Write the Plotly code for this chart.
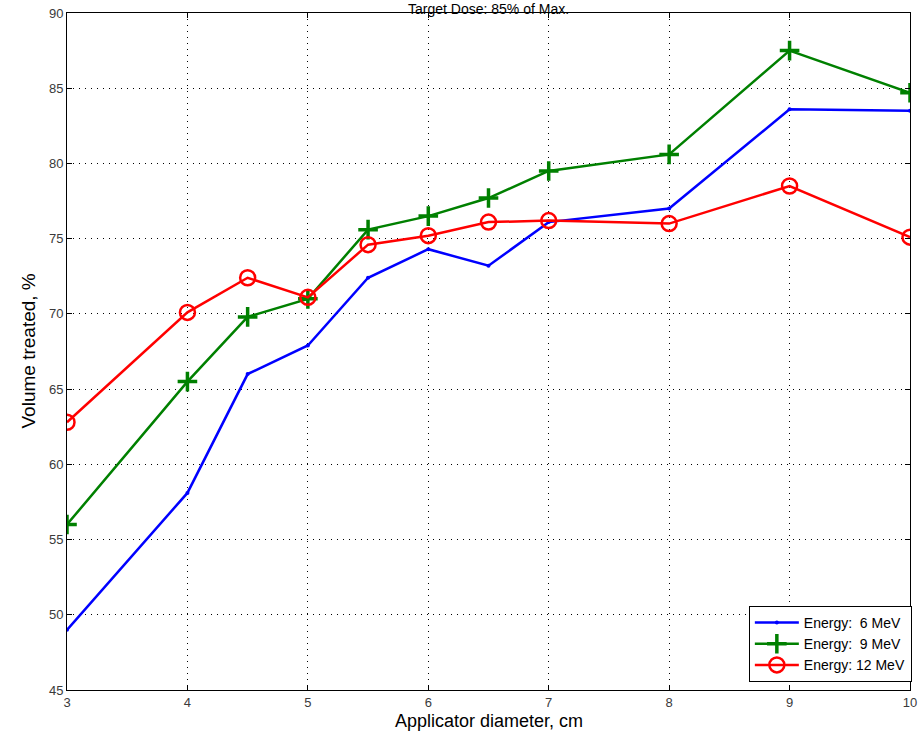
import plotly.graph_objects as go

diam = [3, 4, 4.5, 5, 5.5, 6, 6.5, 7, 8, 9, 10]
vol_6mev = [49.0, 58.1, 66.0, 67.9, 72.4, 74.3, 73.2, 76.1, 77.0, 83.6, 83.5]
vol_9mev = [56.0, 65.5, 69.8, 71.0, 75.6, 76.5, 77.7, 79.5, 80.6, 87.5, 84.7]
vol_12mev = [62.8, 70.1, 72.4, 71.1, 74.6, 75.2, 76.1, 76.2, 76.0, 78.5, 75.1]
x_ticks = [3, 4, 5, 6, 7, 8, 9, 10]
y_ticks = [45, 50, 55, 60, 65, 70, 75, 80, 85, 90]

FONT = "Liberation Sans, Arial, sans-serif"

fig = go.Figure()
fig.add_trace(go.Scatter(
    x=diam, y=vol_6mev, mode="lines+markers",
    name="Energy:\u00a0 6 MeV",
    line=dict(color="#0000FF", width=2.5),
    marker=dict(symbol="circle", size=4, color="#0000FF"),
))
fig.add_trace(go.Scatter(
    x=diam, y=vol_9mev, mode="lines+markers",
    name="Energy:\u00a0 9 MeV",
    line=dict(color="#008000", width=2.5),
    marker=dict(symbol="cross-thin-open", size=14, color="#008000",
                line=dict(color="#008000", width=3.5)),
))
fig.add_trace(go.Scatter(
    x=diam, y=vol_12mev, mode="lines+markers",
    name="Energy: 12 MeV",
    line=dict(color="#FF0000", width=2.5),
    marker=dict(symbol="circle-open", size=15, color="#FF0000",
                line=dict(color="#FF0000", width=2.5)),
))

axis_common = dict(
    showline=True, linecolor="black", linewidth=1, mirror="allticks",
    ticks="inside", ticklen=5, tickcolor="black",
    showgrid=True, gridcolor="black", gridwidth=1, griddash="1px,5px",
    zeroline=False, automargin=False,
    tickfont=dict(family=FONT, size=13, color="#3a3a3a"),
)

fig.update_xaxes(range=[3, 10], tickvals=x_ticks, ticktext=[str(v) for v in x_ticks],
                 ticklabelstandoff=0, **axis_common)
fig.update_yaxes(range=[45, 90], tickvals=y_ticks, ticktext=[str(v) for v in y_ticks],
                 **axis_common)

# axis titles and chart title
fig.add_annotation(text="Applicator diameter, cm", xref="paper", yref="paper",
                   x=0.5, y=0, xanchor="center", yanchor="top", yshift=-19,
                   showarrow=False, font=dict(family=FONT, size=18, color="black"))
fig.add_annotation(text="Volume treated, %", xref="paper", yref="paper",
                   x=0, y=0.5, xanchor="center", yanchor="middle", xshift=-39,
                   textangle=-90, showarrow=False,
                   font=dict(family=FONT, size=19, color="black"))
fig.add_annotation(text="Target Dose: 85% of Max.", xref="paper", yref="paper",
                   x=0.5, y=1, xanchor="center", yanchor="top", yshift=14,
                   showarrow=False, font=dict(family=FONT, size=14, color="black"))

fig.update_layout(
    width=920, height=734,
    margin=dict(l=67, r=9, t=13, b=44),
    plot_bgcolor="white", paper_bgcolor="white",
    showlegend=True,
    legend=dict(
        x=1.001, y=0.012, xanchor="right", yanchor="bottom",
        bgcolor="white", bordercolor="black", borderwidth=1,
        font=dict(family=FONT, size=14, color="black"),
        tracegroupgap=0, itemwidth=44,
    ),
)

fig.write_html("out.html", config={"displayModeBar": False},
               post_script="document.body.style.margin='0';document.body.style.overflow='hidden';")
